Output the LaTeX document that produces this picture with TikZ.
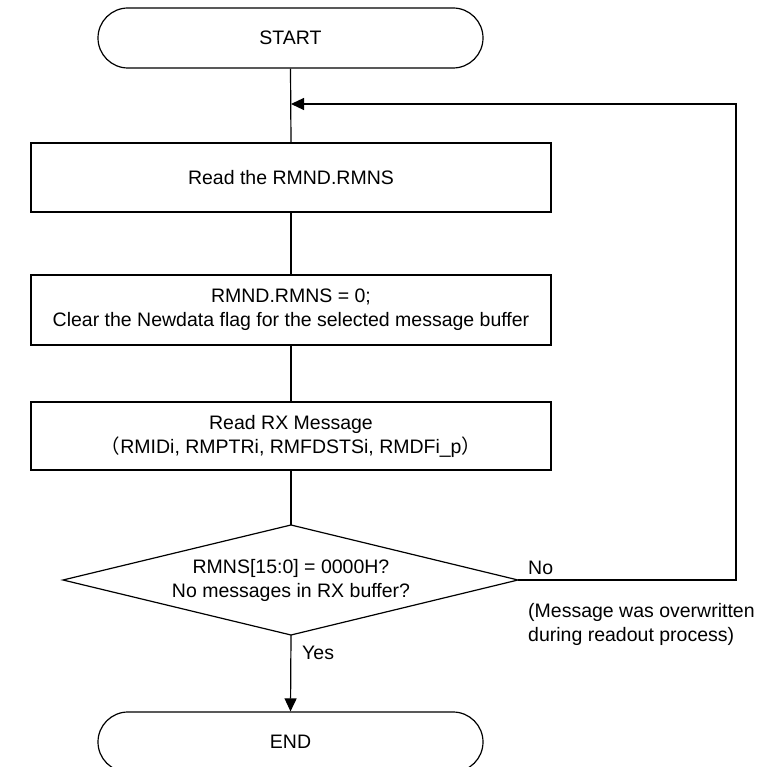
\documentclass[tikz,border=0pt]{standalone}
\usepackage{fontspec}
\setmainfont{Liberation Sans}
\newfontfamily\cjkfont{Noto Sans CJK JP}
\usetikzlibrary{arrows.meta,shapes.geometric,positioning}
\begin{document}
\begin{tikzpicture}[x=1pt,y=-1pt,
  every node/.style={font=\fontsize{19.5}{24}\selectfont},
  term/.style={draw,line width=1.2pt,rounded corners=30pt,minimum width=385pt,minimum height=60pt,inner sep=0pt},
  procbox/.style={draw,line width=1.2pt,minimum width=520pt,inner sep=0pt,align=center},
  conn/.style={line width=1.2pt},
  arr/.style={line width=1.2pt,-{Triangle[length=13pt,width=12pt]}},
  lbl/.style={inner sep=0pt,anchor=west,align=left}
]
\useasboundingbox (0,0) rectangle (771,767);
\node[term] (start) at (290.5,38) {START};
\node[procbox,minimum height=69pt] (b1) at (291,177.5) {Read the RMND.RMNS};
\node[procbox,minimum height=70pt] (b2) at (291,310) {RMND.RMNS = 0;\\Clear the Newdata flag for the selected message buffer};
\node[procbox,minimum height=68pt] (b3) at (291,436) {Read RX Message\\{\cjkfont （}RMIDi, RMPTRi, RMFDSTSi, RMDFi\_p{\cjkfont ）}};
\coordinate (dt) at (291,525);
\coordinate (db) at (291,635);
\coordinate (dl) at (63,580);
\coordinate (dr) at (518,580);
\node[term] (end) at (290.5,742) {END};
\coordinate (loopin) at (291,104);
\coordinate (c1) at (736,580);
\coordinate (c2) at (736,104);
\draw[conn] (dt) -- (dr) -- (db) -- (dl) -- cycle;
\node[align=center,inner sep=0pt] (dtext) at (291,580) {RMNS[15:0] = 0000H?\\No messages in RX buffer?};
\draw[conn] (start.south) -- (b1.north);
\draw[conn] (b1.south) -- (b2.north);
\draw[conn] (b2.south) -- (b3.north);
\draw[conn] (b3.south) -- (dt);
\draw[arr] (db) -- (end.north);
\draw[arr] (dr) -- (c1) -- (c2) -- (loopin);
\node[lbl] (no) at (528,568) {No};
\node[lbl] (yes) at (302,653) {Yes};
\node[lbl] (note) at (528,624.5) {(Message was overwritten\\during readout process)};
\end{tikzpicture}
\end{document}
